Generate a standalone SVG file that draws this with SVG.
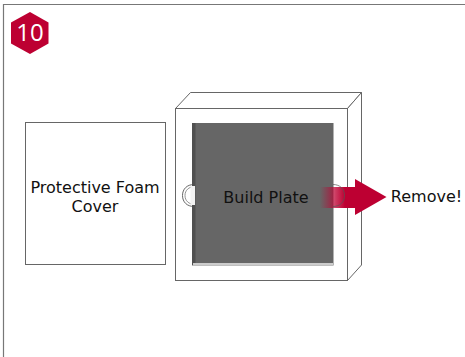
<svg xmlns="http://www.w3.org/2000/svg" width="465" height="357" viewBox="0 0 465 357">
<style>
.t{font-family:"DejaVu Sans",Verdana,sans-serif;font-size:16px;fill:#111;text-anchor:middle}
.o{fill:#fff;stroke:#666;stroke-width:1}
.n{fill:none;stroke:#666;stroke-width:1}
</style>
<defs>
<linearGradient id="g" gradientUnits="userSpaceOnUse" x1="320" x2="345" y1="0" y2="0">
<stop offset="0" stop-color="#bd0032" stop-opacity="0"/>
<stop offset="0.6" stop-color="#bd0032" stop-opacity="0.75"/>
<stop offset="1" stop-color="#bd0032"/>
</linearGradient>
</defs>
<rect width="465" height="357" fill="#fff"/>
<path d="M3.500 357V4.500H465" fill="none" stroke="#777" stroke-width="1.200"/>
<g id="step-badge">
<polygon points="30,12 48.500,22.500 48.500,43.500 30,54 11,43.500 11,22.500" fill="#bd0032"/>
<text x="30" y="41" style="font-family:'Open Sans','DejaVu Sans',sans-serif;font-size:24px;fill:#fff;text-anchor:middle">10</text>
</g>
<g id="foam-cover">
<rect x="25.500" y="122.500" width="140" height="142" class="o"/>
<text x="95" y="193" class="t">Protective Foam</text>
<text x="95" y="212" class="t">Cover</text>
</g>
<g id="frame">
<polygon points="175.500,108.500 190.500,92.500 361.500,92.500 347.500,108.500" class="o"/>
<polygon points="347.500,108.500 361.500,92.500 361.500,265 347.500,280.500" class="o"/>
<rect x="175.500" y="108.500" width="172" height="172" class="o"/>
</g>
<g id="build-plate">
<path d="M194 184.500C187 184.500 182.500 189 182.500 195.500C182.500 202 187 206.500 194 206.500" class="n"/>
<path d="M194 186.500C189 187 185 190 185 195.500C185 201 189 204 194 204.500" class="n" stroke-opacity=".7"/>
<rect x="192.500" y="123.500" width="140.500" height="141.500" fill="#666" stroke="#666" stroke-width="1"/>
<rect x="192" y="123" width="3.500" height="142" fill="#505050"/>
<rect x="193" y="263" width="140" height="2.500" fill="#ccc"/>
<rect x="190.500" y="186" width="4.500" height="19" fill="#f2f2f2"/>
<text x="266" y="202.500" class="t">Build Plate</text>
</g>
<g id="connectors">
<path d="M320 187H355V179L386.500 197L355 215V208H320Z" fill="url(#g)"/>
<path d="M333 184.500C340 184.500 344.500 189 344.500 195.500C344.500 202 340 206.500 333 206.500" fill="none" stroke="#555" stroke-width="1" stroke-opacity=".7"/>
</g>
<g id="remove-label">
<text x="426.500" y="202" class="t">Remove!</text>
</g>
</svg>
